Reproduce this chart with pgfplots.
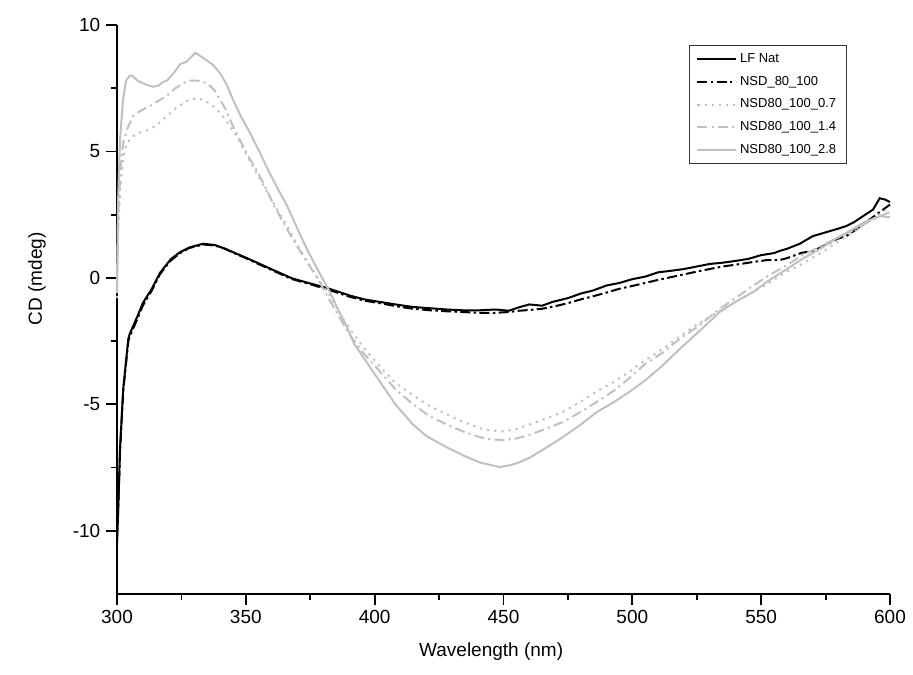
\documentclass[border=0pt]{standalone}
\usepackage{fontspec}
\setmainfont{Liberation Sans}
\usepackage{pgfplots}
\pgfplotsset{compat=1.18}

\definecolor{lgray}{RGB}{192,192,192}

\begin{document}
\begin{tikzpicture}
\begin{axis}[
  name=ax,
  scale only axis,
  width=463.8pt, height=341.4pt,
  xmin=300, xmax=600,
  ymin=-12.5, ymax=10,
  axis x line=bottom, axis y line=left,
  axis line style={-, line width=1.1pt},
  xtick={300,350,...,600},
  ytick={-10,-5,0,5,10},
  minor x tick num=1, minor y tick num=1,
  tick align=outside,
  major tick length=6.5pt, minor tick length=3.5pt,
  every tick/.style={black, line width=1.1pt},
  /pgf/number format/assume math mode=true,
  tick label style={font=\fontsize{11.4}{13}\selectfont},
  xlabel={Wavelength (nm)},
  ylabel={CD (mdeg)},
  label style={font=\fontsize{11.4}{13}\selectfont},
  xlabel style={at={(axis description cs:0.484,-0.102)}, anchor=center},
  ylabel style={at={(axis description cs:-0.1035,0.554)}, anchor=center},
  clip=false,
  legend cell align=left,
  legend image code/.code={\draw[#1] (0pt,0pt) -- (23pt,0pt);},
  legend style={at={(0.944,0.965)}, anchor=north east,
    draw=black!80, line width=0.6pt,
    font=\fontsize{7.8}{9}\selectfont,
    row sep=2.6pt, inner xsep=4pt, inner ysep=3pt},
]
% LF Nat
\addplot[black, line width=1.2pt] coordinates {
(300,-10.5) (300.5,-9.1) (301.2,-6.7) (302.4,-4.4) (304.4,-2.4) (305,-2.2)
(308,-1.5) (310,-1.0) (313.5,-0.43) (316.7,0.2) (318.6,0.45) (321,0.75)
(324.5,1.02) (328,1.2) (333.4,1.35) (338,1.3) (342,1.15) (345,1.02)
(350,0.8) (355.5,0.55) (362,0.25) (368,-0.02) (375,-0.22) (381.4,-0.4)
(386,-0.55) (390.4,-0.7) (396,-0.85) (402,-0.95) (410,-1.08) (415,-1.15)
(421.5,-1.2) (428,-1.25) (434,-1.28) (441,-1.28) (447,-1.25) (452,-1.3)
(456.4,-1.15) (460,-1.05) (465,-1.1) (469,-0.95) (475,-0.8) (480,-0.62)
(484.7,-0.5) (490,-0.3) (495,-0.2) (500,-0.05) (505,0.05) (510,0.22)
(515,0.28) (520,0.35) (525,0.45) (530,0.55) (535,0.6) (540,0.67)
(545,0.75) (550,0.9) (555,0.98) (557,1.06) (560,1.15) (565,1.35)
(570,1.65) (575,1.8) (580,1.95) (583,2.05) (586,2.2) (589.5,2.44)
(593.4,2.7) (596,3.15) (598,3.1) (600,3.0)
};
\addlegendentry{LF Nat}
% NSD_80_100
\addplot[black, line width=1.2pt, dash pattern=on 6pt off 2pt on 1.5pt off 2pt] coordinates {
(300,-10.3) (300.5,-9.0) (301.2,-6.8) (302.4,-4.5) (304.4,-2.5) (305,-2.3)
(308,-1.6) (310,-1.1) (313.5,-0.5) (316.7,0.15) (318.6,0.4) (321,0.7)
(324.5,0.98) (328,1.18) (333.4,1.32) (338,1.28) (342,1.15) (345,1.0)
(350,0.78) (355.5,0.52) (362,0.22) (368,-0.05) (375,-0.25) (381.4,-0.45)
(386,-0.6) (390.4,-0.75) (396,-0.9) (402,-1.0) (410,-1.15) (415,-1.22)
(421.5,-1.28) (428,-1.32) (434,-1.35) (441,-1.38) (447,-1.38) (452,-1.35)
(456,-1.3) (460,-1.27) (465,-1.22) (470,-1.12) (475,-1.0) (480,-0.85)
(485,-0.72) (490,-0.58) (495,-0.43) (500,-0.32) (505,-0.2) (510,-0.08)
(515,0.03) (521,0.16) (525,0.25) (530,0.35) (535,0.45) (540,0.52)
(547,0.63) (552,0.7) (557,0.7) (560,0.78) (566,1.0) (570,1.05)
(575,1.3) (579.4,1.54) (583,1.65) (588,2.0) (592,2.3) (596,2.6) (600,2.9)
};
\addlegendentry{NSD\_80\_100}
% NSD80_100_0.7
\addplot[lgray, line width=1.2pt, dash pattern=on 1.3pt off 3pt] coordinates {
(300,-0.8) (300.5,2.0) (301.5,3.8) (302.5,4.8) (303.9,5.35) (306.2,5.6)
(309,5.75) (312.8,5.87) (316,6.1) (319.4,6.4) (322,6.65) (325.6,6.9)
(328,7.05) (331,7.1) (333,7.05) (336,6.9) (338.5,6.7) (341,6.4)
(343.5,6.05) (346.5,5.6) (349.5,5.0) (352.8,4.4) (356,3.8) (359.4,3.2)
(362.5,2.65) (366,2.05) (370,1.3) (375,0.47) (378.5,-0.1) (382.6,-0.7)
(387,-1.5) (391,-2.1) (396,-2.8) (402,-3.5) (408,-4.15) (415,-4.65)
(421,-5.05) (428,-5.4) (435,-5.72) (441,-5.95) (445,-6.03) (450,-6.07)
(455,-5.98) (460,-5.8) (466,-5.58) (473,-5.3) (480,-4.9) (486,-4.5)
(493,-4.1) (499,-3.7) (505,-3.25) (512,-2.8) (518.5,-2.3) (525,-1.85)
(533,-1.35) (540,-0.95) (547,-0.55) (553,-0.2) (560,0.25) (565,0.5)
(570,0.8) (575,1.1) (580,1.45) (585,1.75) (590,2.1) (595,2.45) (600,2.8)
};
\addlegendentry{NSD80\_100\_0.7}
% NSD80_100_1.4
\addplot[lgray, line width=1.2pt, dash pattern=on 6pt off 2.5pt on 1.3pt off 2.5pt] coordinates {
(300,-0.6) (300.5,2.5) (301.5,4.5) (302.5,5.4) (304.4,6.0) (306.3,6.4)
(309,6.6) (312.8,6.8) (316,7.0) (319.4,7.2) (322,7.45) (325.6,7.7)
(328,7.8) (331,7.8) (335,7.7) (338,7.4) (340,7.05) (342.5,6.6)
(345,6.0) (348,5.4) (351.6,4.7) (355,4.1) (358,3.5) (361,2.85)
(364.5,2.2) (369,1.4) (373.7,0.63) (378,-0.05) (381.5,-0.7) (386,-1.5)
(390,-2.2) (395,-2.9) (402,-3.7) (408,-4.4) (414.9,-5.0) (421,-5.45)
(428,-5.8) (435,-6.1) (440.9,-6.3) (445,-6.38) (449.8,-6.42) (455,-6.35)
(460.3,-6.2) (466,-5.98) (473,-5.7) (480,-5.3) (486.3,-4.9) (493,-4.45)
(499,-3.95) (505,-3.4) (511.9,-2.95) (518.5,-2.4) (525,-1.95) (534,-1.22)
(540,-0.8) (547,-0.3) (553,0.1) (560,0.5) (566,0.9) (573,1.25)
(580,1.6) (587,1.95) (593,2.3) (600,2.6)
};
\addlegendentry{NSD80\_100\_1.4}
% NSD80_100_2.8
\addplot[lgray, line width=1.2pt] coordinates {
(300,-0.3) (300.4,3.0) (301.2,5.5) (302.3,7.0) (303.5,7.8) (305,8.0)
(306,7.98) (308,7.8) (310,7.7) (312,7.62) (314,7.56) (316,7.6)
(318,7.75) (319.4,7.8) (322,8.1) (324.5,8.45) (327,8.55) (329,8.75)
(330.3,8.9) (332,8.8) (334.8,8.6) (337,8.45) (340,8.1) (342.5,7.65)
(345,7.05) (348,6.4) (351.6,5.74) (355,5.05) (358,4.4) (362,3.6)
(366,2.85) (370,1.95) (373.7,1.14) (378,0.3) (382.6,-0.55) (386,-1.3)
(389,-1.9) (392,-2.6) (396,-3.2) (402,-4.1) (408,-5.0) (414.9,-5.8)
(420,-6.25) (428,-6.7) (435,-7.05) (440.9,-7.3) (445,-7.4) (448.6,-7.48)
(452,-7.42) (456,-7.3) (460.3,-7.1) (466,-6.75) (473,-6.3) (480,-5.8)
(486.3,-5.3) (493,-4.9) (499,-4.5) (505,-4.05) (511.9,-3.45) (518.5,-2.8)
(525,-2.2) (534,-1.34) (540,-0.95) (547,-0.55) (553,-0.1) (560,0.35)
(566,0.75) (572.8,1.14) (579,1.55) (585.6,1.93) (590,2.2) (596,2.44) (600,2.4)
};
\addlegendentry{NSD80\_100\_2.8}
\end{axis}
\pgfresetboundingbox
\path[use as bounding box] ([xshift=-70.2pt,yshift=-48pt]ax.south west) rectangle ([xshift=477.6pt,yshift=356.4pt]ax.south west);
\end{tikzpicture}
\end{document}
